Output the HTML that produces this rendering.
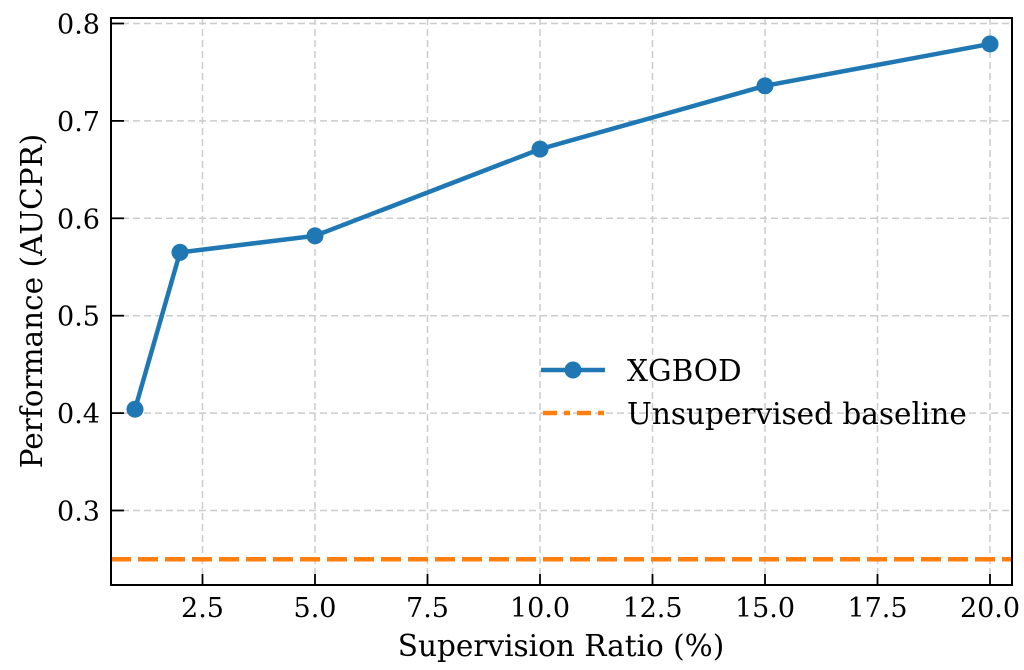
<!DOCTYPE html>
<html><head><meta charset="utf-8"><style>body{margin:0;background:#fff}svg text{font-family:"DejaVu Serif","Liberation Serif",serif;fill:#000}</style></head>
<body>
<svg id="chart" width="1024" height="665" xmlns="http://www.w3.org/2000/svg">
<g id="grid"></g>
<g id="series"></g>
<rect x="111" y="18" width="901" height="567" fill="none" stroke="#000" stroke-width="2"/>
<g id="ticks"></g>
<text x="561" y="656" font-size="29.5" text-anchor="middle">Supervision Ratio (%)</text>
<text transform="translate(42,301) rotate(-90)" font-size="29.5" text-anchor="middle">Performance (AUCPR)</text>
<g>
<line x1="541" y1="370" x2="605" y2="370" stroke="#1f77b4" stroke-width="4.5"/>
<circle cx="573" cy="370" r="8.5" fill="#1f77b4"/>
<text x="627" y="381" font-size="29.5">XGBOD</text>
<line x1="543" y1="413" x2="605" y2="413" stroke="#ff7f0e" stroke-width="4.5" stroke-dasharray="14,7,6,7"/>
<text x="627" y="424" font-size="29.5">Unsupervised baseline</text>
</g>
</svg>
<script>
const xValues=[1,2,5,10,15,20];
const yValues=[0.404,0.565,0.582,0.671,0.736,0.779];
const baseline=0.25;
const xTicks=[2.5,5.0,7.5,10.0,12.5,15.0,17.5,20.0];
const yTicks=[0.3,0.4,0.5,0.6,0.7,0.8];
const NS="http://www.w3.org/2000/svg";
const L=111,R=1012,T=18,B=585;
function X(v){return 90+(v)*45;}
function Y(v){return 23.5+(0.8-v)*974;}
function mk(t,a,p){const e=document.createElementNS(NS,t);for(const k in a)e.setAttribute(k,a[k]);p.appendChild(e);return e;}
const g=document.getElementById('grid'),s=document.getElementById('series'),tk=document.getElementById('ticks');
xTicks.forEach(v=>{
 const l=mk('line',{x1:X(v),x2:X(v),y1:T,y2:B,stroke:'#ccc','stroke-width':1.5,'stroke-dasharray':'7,4'},g);
 
 const t=mk('line',{x1:X(v),x2:X(v),y1:B,y2:B-11,stroke:'#000','stroke-width':1.8},tk);
 
 const tx=mk('text',{x:X(v),y:617,'font-size':27,'text-anchor':'middle'},tk);tx.textContent=v.toFixed(1);
 
});
yTicks.forEach(v=>{
 const l=mk('line',{x1:L,x2:R,y1:Y(v),y2:Y(v),stroke:'#ccc','stroke-width':1.5,'stroke-dasharray':'7,4'},g);
 
 const t=mk('line',{x1:L,x2:L+13,y1:Y(v),y2:Y(v),stroke:'#000','stroke-width':1.8},tk);
 
 const tx=mk('text',{x:100,y:Y(v)+10,'font-size':27,'text-anchor':'end'},tk);tx.textContent=v.toFixed(1);
 
});
const bl=mk('line',{x1:L,x2:R,y1:Y(baseline),y2:Y(baseline),stroke:'#ff7f0e','stroke-width':4.5,'stroke-dasharray':'20,7'},s);

const pl=mk('polyline',{points:xValues.map((x,i)=>X(x)+','+Y(yValues[i])).join(' '),fill:'none',stroke:'#1f77b4','stroke-width':4.5},s);

xValues.forEach((x,i)=>{const c=mk('circle',{cx:X(x),cy:Y(yValues[i]),r:8.5,fill:'#1f77b4'},s);
 });
</script>
</body></html>
